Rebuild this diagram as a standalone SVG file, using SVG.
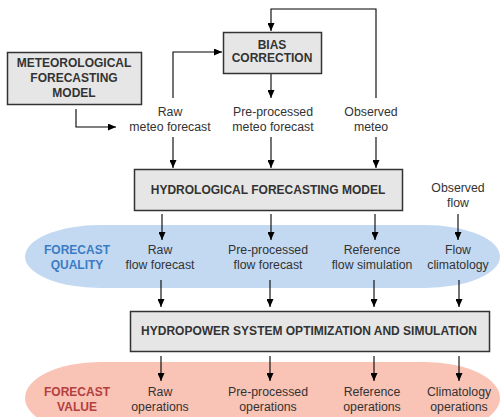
<svg xmlns="http://www.w3.org/2000/svg" width="501" height="417" viewBox="0 0 501 417">
<defs>
<marker id="ah" markerUnits="userSpaceOnUse" markerWidth="8" markerHeight="7" refX="8" refY="3.5" orient="auto">
<path d="M0,0 L8,3.5 L0,7 z" fill="#000"/>
</marker>
<style>
.box{fill:#e6e6e6;stroke:#333;stroke-width:1.5}
.bt{font-family:"Liberation Sans",Arial,sans-serif;font-size:12px;font-weight:bold;fill:#333;text-anchor:middle}
.t{font-family:"Liberation Sans",Arial,sans-serif;font-size:12.3px;fill:#333;text-anchor:middle}
.c{fill:none;stroke:#000;stroke-width:1.1;marker-end:url(#ah)}
.q{font-family:"Liberation Sans",Arial,sans-serif;font-size:12px;font-weight:bold;fill:#3b7cc4;text-anchor:middle}
.v{font-family:"Liberation Sans",Arial,sans-serif;font-size:12px;font-weight:bold;fill:#b3403e;text-anchor:middle}
</style>
</defs>
<rect width="501" height="417" fill="#fff"/>
<g id="quality-band">
<rect x="25" y="225" width="475" height="63" rx="75" ry="31.5" fill="#c3d9f2"/>
<text class="q" x="77" y="254">FORECAST</text>
<text class="q" x="77" y="269">QUALITY</text>
</g>
<g id="value-band">
<rect x="25" y="362" width="475" height="72" rx="75" ry="36" fill="#f9c3b6"/>
<text class="v" x="77" y="396">FORECAST</text>
<text class="v" x="77" y="411">VALUE</text>
</g>
<g id="connectors">
<path class="c" d="M76,109 V127 H116"/>
<path class="c" d="M173,98 V52 H222"/>
<path class="c" d="M376,98 V9 H271 V31"/>
<path class="c" d="M271,74 V98"/>
<path class="c" d="M173,137 V168"/>
<path class="c" d="M271,137 V168"/>
<path class="c" d="M376,137 V168"/>
<path class="c" d="M162,214 V240"/>
<path class="c" d="M271,214 V240"/>
<path class="c" d="M375,214 V240"/>
<path class="c" d="M458,214 V240"/>
<path class="c" d="M161,280 V307"/>
<path class="c" d="M270,280 V307"/>
<path class="c" d="M374,280 V307"/>
<path class="c" d="M459,280 V307"/>
<path class="c" d="M161,356 V381"/>
<path class="c" d="M270,356 V381"/>
<path class="c" d="M374,356 V381"/>
<path class="c" d="M459,356 V381"/>
</g>
<g id="meteo-model">
<rect class="box" x="7.5" y="52.5" width="134" height="52"/>
<text class="bt" x="74" y="67">METEOROLOGICAL</text>
<text class="bt" x="74" y="82">FORECASTING</text>
<text class="bt" x="74" y="97">MODEL</text>
</g>
<g id="bias-correction">
<rect class="box" x="223.5" y="32.5" width="98" height="41"/>
<text class="bt" x="272" y="49">BIAS</text>
<text class="bt" x="272" y="62">CORRECTION</text>
</g>
<g id="raw-meteo">
<text class="t" x="170" y="116">Raw</text>
<text class="t" x="170" y="131">meteo forecast</text>
</g>
<g id="pre-meteo">
<text class="t" x="273" y="116">Pre-processed</text>
<text class="t" x="273" y="131">meteo forecast</text>
</g>
<g id="obs-meteo">
<text class="t" x="371" y="116">Observed</text>
<text class="t" x="371" y="131">meteo</text>
</g>
<g id="hydro-model">
<rect class="box" x="134.5" y="169.5" width="268" height="41"/>
<text class="bt" x="268" y="194">HYDROLOGICAL FORECASTING MODEL</text>
</g>
<g id="obs-flow">
<text class="t" x="458" y="192">Observed</text>
<text class="t" x="458" y="207">flow</text>
</g>
<g id="raw-flow">
<text class="t" x="160" y="254">Raw</text>
<text class="t" x="160" y="269">flow forecast</text>
</g>
<g id="pre-flow">
<text class="t" x="268" y="254">Pre-processed</text>
<text class="t" x="268" y="269">flow forecast</text>
</g>
<g id="ref-flow">
<text class="t" x="372" y="254">Reference</text>
<text class="t" x="372" y="269">flow simulation</text>
</g>
<g id="clim-flow">
<text class="t" x="458" y="254">Flow</text>
<text class="t" x="458" y="269">climatology</text>
</g>
<g id="hydropower">
<rect class="box" x="130.5" y="311.5" width="359" height="40"/>
<text class="bt" x="309" y="335">HYDROPOWER SYSTEM OPTIMIZATION AND SIMULATION</text>
</g>
<g id="raw-ops">
<text class="t" x="160" y="396">Raw</text>
<text class="t" x="160" y="411">operations</text>
</g>
<g id="pre-ops">
<text class="t" x="268" y="396">Pre-processed</text>
<text class="t" x="268" y="411">operations</text>
</g>
<g id="ref-ops">
<text class="t" x="372" y="396">Reference</text>
<text class="t" x="372" y="411">operations</text>
</g>
<g id="clim-ops">
<text class="t" x="459" y="396">Climatology</text>
<text class="t" x="459" y="411">operations</text>
</g>
</svg>
